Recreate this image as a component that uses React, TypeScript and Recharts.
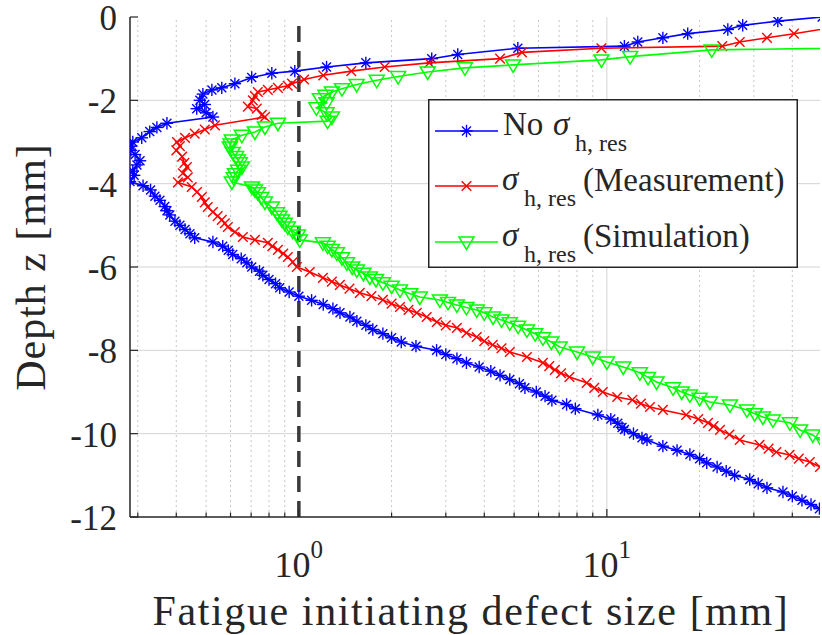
import React from 'react';
import { ScatterChart, Scatter, XAxis, YAxis, ReferenceLine, Legend } from 'recharts';

// depth [mm] vs fatigue initiating defect size [mm]
const noResDepth = [0, -0.1, -0.2, -0.3, -0.4, -0.5, -0.6, -0.7, -0.75, -0.9, -1.0, -1.1, -1.2, -1.3, -1.35, -1.45, -1.6, -1.7, -1.75, -1.85, -2.0, -2.1, -2.2, -2.3, -2.4, -2.55, -2.65, -2.75, -2.9, -3.0, -3.1, -3.2, -3.3, -3.45, -3.55, -3.7, -3.8, -3.95, -4.05, -4.15, -4.3, -4.4, -4.55, -4.65, -4.75, -4.9, -5.0, -5.1, -5.2, -5.3, -5.4, -5.5, -5.6, -5.7, -5.8, -5.9, -6.0, -6.1, -6.2, -6.3, -6.4, -6.5, -6.6, -6.7, -6.8, -6.9, -7.0, -7.1, -7.2, -7.3, -7.4, -7.5, -7.6, -7.7, -7.8, -7.9, -8.0, -8.1, -8.2, -8.3, -8.4, -8.5, -8.6, -8.7, -8.8, -8.9, -9.0, -9.1, -9.2, -9.3, -9.4, -9.55, -9.65, -9.75, -9.85, -9.9, -10.0, -10.1, -10.15, -10.3, -10.4, -10.5, -10.6, -10.7, -10.8, -10.9, -11.0, -11.1, -11.2, -11.3, -11.4, -11.5, -11.6, -11.7, -11.8, -11.9];
const noResSize = [50, 35.9, 27.6, 24.7, 18.3, 15.2, 12.6, 11.4, 5.14, 3.28, 2.7, 1.65, 1.23, 0.97, 0.817, 0.703, 0.62, 0.562, 0.522, 0.488, 0.477, 0.495, 0.466, 0.5, 0.526, 0.373, 0.346, 0.328, 0.309, 0.289, 0.285, 0.285, 0.294, 0.305, 0.298, 0.289, 0.292, 0.283, 0.312, 0.33, 0.341, 0.354, 0.367, 0.373, 0.381, 0.396, 0.411, 0.427, 0.443, 0.459, 0.526, 0.566, 0.59, 0.61, 0.65, 0.678, 0.703, 0.745, 0.764, 0.8, 0.84, 0.867, 0.93, 1.0, 1.1, 1.2, 1.29, 1.36, 1.465, 1.543, 1.65, 1.738, 1.874, 2.0, 2.15, 2.4, 2.8, 3.0, 3.26, 3.5, 3.85, 4.2, 4.5, 4.84, 5.2, 5.42, 5.9, 6.3, 6.63, 7.4, 7.9, 9.35, 10.3, 10.85, 11.2, 11.4, 12.2, 13.0, 13.5, 15.2, 16.9, 18.6, 20.0, 21.1, 22.8, 24.4, 26.0, 29.1, 31.0, 33.1, 37.3, 40.0, 43.0, 46.0, 49.0, 53.0];

const measDepth = [-0.2, -0.4, -0.5, -0.6, -0.7, -0.75, -0.85, -1.0, -1.1, -1.2, -1.3, -1.4, -1.5, -1.6, -1.65, -1.7, -1.75, -1.8, -1.9, -2.0, -2.15, -2.2, -2.35, -2.4, -2.6, -2.7, -2.8, -2.9, -3.0, -3.1, -3.2, -3.35, -3.5, -3.6, -3.75, -3.85, -3.97, -4.08, -4.2, -4.32, -4.45, -4.56, -4.68, -4.78, -4.87, -4.95, -5.04, -5.16, -5.28, -5.35, -5.42, -5.5, -5.59, -5.68, -5.76, -5.88, -6.0, -6.12, -6.26, -6.35, -6.43, -6.52, -6.62, -6.7, -6.79, -6.88, -6.96, -7.03, -7.1, -7.2, -7.32, -7.4, -7.46, -7.58, -7.68, -7.78, -7.87, -7.95, -8.04, -8.16, -8.3, -8.38, -8.47, -8.55, -8.64, -8.78, -8.9, -9.0, -9.12, -9.19, -9.28, -9.36, -9.43, -9.55, -9.65, -9.74, -9.82, -9.91, -10.02, -10.15, -10.27, -10.36, -10.44, -10.51, -10.6, -10.68, -10.8, -10.9];
const measSize = [60, 40.5, 33.1, 27.0, 23.7, 9.6, 5.3, 4.5, 2.65, 1.9, 1.48, 1.2, 1.04, 0.95, 0.92, 0.855, 0.793, 0.736, 0.72, 0.709, 0.683, 0.73, 0.758, 0.776, 0.534, 0.495, 0.459, 0.427, 0.402, 0.411, 0.4, 0.418, 0.425, 0.433, 0.42, 0.436, 0.405, 0.449, 0.467, 0.484, 0.495, 0.506, 0.526, 0.545, 0.562, 0.575, 0.588, 0.62, 0.658, 0.72, 0.793, 0.82, 0.855, 0.89, 0.921, 0.955, 0.985, 1.085, 1.197, 1.28, 1.359, 1.46, 1.577, 1.72, 1.874, 2.0, 2.13, 2.27, 2.415, 2.6, 2.806, 3.0, 3.258, 3.5, 3.78, 4.0, 4.26, 4.55, 4.84, 5.5, 6.2, 6.5, 6.78, 7.1, 7.56, 8.6, 9.1, 9.7, 10.8, 12.1, 12.9, 13.8, 15.2, 18.1, 19.8, 21.3, 22.2, 23.3, 25.0, 27.0, 31.3, 33.5, 35.5, 39.2, 42.0, 45.6, 49.2, 53];

const simDepth = [-0.7, -0.79, -0.95, -1.03, -1.15, -1.22, -1.32, -1.43, -1.52, -1.62, -1.72, -1.8, -1.88, -1.96, -2.06, -2.18, -2.3, -2.4, -2.5, -2.55, -2.64, -2.76, -2.84, -2.95, -3.05, -3.12, -3.25, -3.35, -3.43, -3.5, -3.6, -3.68, -3.76, -3.86, -3.96, -4.08, -4.15, -4.22, -4.33, -4.44, -4.56, -4.7, -4.78, -4.87, -4.95, -5.04, -5.14, -5.23, -5.35, -5.42, -5.5, -5.58, -5.66, -5.78, -5.9, -6.0, -6.07, -6.15, -6.24, -6.3, -6.38, -6.46, -6.55, -6.64, -6.72, -6.79, -6.85, -6.91, -6.97, -7.03, -7.1, -7.2, -7.27, -7.34, -7.42, -7.51, -7.6, -7.7, -7.8, -7.92, -8.04, -8.16, -8.28, -8.4, -8.54, -8.65, -8.76, -8.9, -9.0, -9.07, -9.15, -9.24, -9.31, -9.43, -9.52, -9.6, -9.67, -9.74, -9.91, -10.03, -10.22, -10.3];
const simSize = [150, 21.9, 11.9, 9.6, 4.96, 3.46, 2.62, 2.1, 1.79, 1.54, 1.38, 1.28, 1.22, 1.17, 1.23, 1.14, 1.23, 1.28, 1.24, 0.855, 0.776, 0.72, 0.653, 0.606, 0.6, 0.597, 0.61, 0.625, 0.634, 0.643, 0.653, 0.635, 0.62, 0.615, 0.606, 0.704, 0.72, 0.736, 0.755, 0.776, 0.817, 0.848, 0.865, 0.881, 0.9, 0.921, 0.955, 0.993, 1.007, 1.197, 1.24, 1.28, 1.328, 1.38, 1.432, 1.49, 1.543, 1.62, 1.7, 1.78, 1.874, 2.0, 2.13, 2.3, 2.47, 2.87, 3.05, 3.258, 3.5, 3.78, 4.0, 4.27, 4.55, 4.84, 5.15, 5.5, 5.85, 6.2, 6.6, 7.03, 8.0, 9.0, 10.0, 11.3, 12.8, 13.6, 14.5, 16.4, 17.5, 18.6, 20.0, 21.6, 25.1, 28.5, 30.2, 32.1, 34.6, 39.3, 42.4, 46.6, 50.5, 55];

const xTicks = [0.3, 0.4, 0.5, 0.6, 0.7, 0.8, 0.9, 1, 2, 3, 4, 5, 6, 7, 8, 9, 10, 20, 30, 40];
const xMajor = [1, 10];
const xMajorLabels = ['0', '1']; // exponents of 10
const xMinorGrid = [0.3, 0.4, 0.5, 0.6, 0.7, 0.8, 0.9, 2, 3, 4, 5, 6, 7, 8, 9, 20, 30, 40];
const yTicks = [0, -2, -4, -6, -8, -10, -12];
const yGrid = [-2, -4, -6, -8, -10];
const xDomain = [0.283, 49.2];

const AX = '#262626';
const FONT = 'Liberation Serif';

const noResData = noResDepth.map((d, i) => ({ depth: d, size: noResSize[i] }));
const measData = measDepth.map((d, i) => ({ depth: d, size: measSize[i] }));
const simData = simDepth.map((d, i) => ({ depth: d, size: simSize[i] }));

const StarMark = ({ cx, cy, color = '#0000ff' }: any) => {
  if (cx == null || cy == null) return null;
  const r = 6.2;
  const d = r * 0.72;
  return (
    <g stroke={color} strokeWidth={1.4}>
      <line x1={cx - r} y1={cy} x2={cx + r} y2={cy} />
      <line x1={cx} y1={cy - r} x2={cx} y2={cy + r} />
      <line x1={cx - d} y1={cy - d} x2={cx + d} y2={cy + d} />
      <line x1={cx - d} y1={cy + d} x2={cx + d} y2={cy - d} />
    </g>
  );
};

const CrossMark = ({ cx, cy, color = '#ff0000' }: any) => {
  if (cx == null || cy == null) return null;
  const r = 4.8;
  return (
    <g stroke={color} strokeWidth={1.4}>
      <line x1={cx - r} y1={cy - r} x2={cx + r} y2={cy + r} />
      <line x1={cx - r} y1={cy + r} x2={cx + r} y2={cy - r} />
    </g>
  );
};

const TriMark = ({ cx, cy, color = '#00ff00' }: any) => {
  if (cx == null || cy == null) return null;
  return (
    <polygon
      points={`${cx - 7.5},${cy - 5} ${cx + 7.5},${cy - 5} ${cx},${cy + 7.5}`}
      fill="none"
      stroke={color}
      strokeWidth={1.5}
    />
  );
};

const BottomTick = ({ x, y, payload }: any) => {
  const idx = xMajor.indexOf(payload.value);
  const major = idx >= 0;
  return (
    <g>
      <line x1={x} y1={y} x2={x} y2={y - (major ? 8 : 4.5)} stroke={AX} strokeWidth={1.2} />
      {major && (
        <text x={x} y={y + 60} textAnchor="middle" fontSize={36} fill={AX} style={{ fontFamily: FONT }}>
          10<tspan dy={-19} fontSize={25}>{xMajorLabels[idx]}</tspan>
        </text>
      )}
    </g>
  );
};

const TopTick = ({ x, y, payload }: any) => {
  const major = xMajor.includes(payload.value);
  return <line x1={x} y1={y} x2={x} y2={y + (major ? 8 : 4.5)} stroke={AX} strokeWidth={1.2} />;
};

const LeftTick = ({ x, y, payload }: any) => (
  <g>
    <line x1={x} y1={y} x2={x + 8} y2={y} stroke={AX} strokeWidth={1.2} />
    <text x={x - 13} y={y + 13} textAnchor="end" fontSize={35} fill={AX} style={{ fontFamily: FONT }}>
      {payload.value}
    </text>
  </g>
);

const RightTick = ({ x, y }: any) => (
  <line x1={x} y1={y} x2={x - 8} y2={y} stroke={AX} strokeWidth={1.2} />
);

const XTitle = (props: any) => {
  const vb = props.viewBox || { x: 130, y: 517, width: 690 };
  return (
    <text x={vb.x + vb.width / 2 - 4} y={vb.y + 108} textAnchor="middle" fontSize={42} fill={AX} letterSpacing={1.6} style={{ fontFamily: FONT }}>
      Fatigue initiating defect size [mm]
    </text>
  );
};

const YTitle = (props: any) => {
  const vb = props.viewBox || { x: 0, y: 17, width: 130, height: 500 };
  const cy = vb.y + vb.height / 2;
  return (
    <text x={45} y={cy} transform={`rotate(-90, 45, ${cy})`} textAnchor="middle" fontSize={42} fill={AX} letterSpacing={1} style={{ fontFamily: FONT }}>
      Depth z [mm]
    </text>
  );
};

const legendItems = [
  { pre: 'No', post: '', Mark: StarMark, color: '#0000ff' },
  { pre: '', post: '(Measurement)', Mark: CrossMark, color: '#ff0000' },
  { pre: '', post: '(Simulation)', Mark: TriMark, color: '#00ff00' },
];
const legendRows = [32, 87, 143];

const LegendBox = () => (
  <svg width={370} height={169} style={{ display: 'block', fontFamily: FONT }}>
    <rect x={0.75} y={0.75} width={368.5} height={167.5} fill="#ffffff" stroke={AX} strokeWidth={1.5} />
    {legendItems.map((it, i) => {
      const cy = legendRows[i];
      const sx = it.pre ? 125 : 74;
      return (
        <g key={i} fill={AX}>
          <line x1={7} y1={cy} x2={70} y2={cy} stroke={it.color} strokeWidth={1.5} />
          <it.Mark cx={38.5} cy={cy} color={it.color} />
          {it.pre && <text x={75} y={cy + 4} fontSize={33} style={{ fontFamily: FONT }}>{it.pre}</text>}
          <text x={sx} y={cy + 4} fontSize={33} fontStyle="italic" style={{ fontFamily: FONT }}>σ</text>
          <text x={sx + 22} y={cy + 20} fontSize={24} style={{ fontFamily: FONT }}>h, res</text>
          {it.post && <text x={155} y={cy + 5} fontSize={33} style={{ fontFamily: FONT }}>{it.post}</text>}
        </g>
      );
    })}
  </svg>
);

export default function App() {
  return (
    <div style={{ position: 'absolute', left: 0, top: 0, width: 822, height: 635, background: '#ffffff', fontFamily: FONT }}>
      <ScatterChart width={822} height={635} margin={{ top: 17, right: 2, bottom: 0, left: 0 }}>
        <XAxis
          xAxisId="b"
          type="number"
          dataKey="size"
          scale="log"
          domain={xDomain}
          allowDataOverflow
          ticks={xTicks}
          interval={0}
          height={118}
          tickSize={0}
          tickMargin={0}
          tickLine={false}
          axisLine={{ stroke: AX, strokeWidth: 1.5 }}
          tick={<BottomTick />}
          label={<XTitle />}
        />
        <XAxis
          xAxisId="t"
          orientation="top"
          type="number"
          dataKey="size"
          scale="log"
          domain={xDomain}
          allowDataOverflow
          ticks={xTicks}
          interval={0}
          height={0}
          tickSize={0}
          tickMargin={0}
          tickLine={false}
          axisLine={{ stroke: AX, strokeWidth: 1.5 }}
          tick={<TopTick />}
        />
        <YAxis
          yAxisId="l"
          type="number"
          dataKey="depth"
          domain={[-12, 0]}
          allowDataOverflow
          ticks={yTicks}
          interval={0}
          width={130}
          tickSize={0}
          tickMargin={0}
          tickLine={false}
          axisLine={{ stroke: AX, strokeWidth: 1.5 }}
          tick={<LeftTick />}
          label={<YTitle />}
        />
        <YAxis
          yAxisId="r"
          orientation="right"
          type="number"
          dataKey="depth"
          domain={[-12, 0]}
          allowDataOverflow
          ticks={yTicks}
          interval={0}
          width={0}
          tickSize={0}
          tickMargin={0}
          tickLine={false}
          axisLine={{ stroke: AX, strokeWidth: 1.5 }}
          tick={<RightTick />}
        />

        {xMinorGrid.map((v) => (
          <ReferenceLine key={`mx${v}`} xAxisId="b" yAxisId="l" x={v} stroke="#c8c8c8" strokeWidth={1} strokeDasharray="2 3" />
        ))}
        <ReferenceLine xAxisId="b" yAxisId="l" x={10} stroke="#d4d4d4" strokeWidth={1} />
        {yGrid.map((v) => (
          <ReferenceLine key={`gy${v}`} xAxisId="b" yAxisId="l" y={v} stroke="#d4d4d4" strokeWidth={1} />
        ))}

        <Scatter
          name="No sigma"
          data={noResData}
          xAxisId="b"
          yAxisId="l"
          fill="#0000ff"
          line={{ stroke: '#0000ff', strokeWidth: 1.6 }}
          lineType="joint"
          shape={(p: any) => <StarMark cx={p.cx} cy={p.cy} color="#0000ff" />}
          isAnimationActive={false}
        />
        <Scatter
          name="Measurement"
          data={measData}
          xAxisId="b"
          yAxisId="l"
          fill="#ff0000"
          line={{ stroke: '#ff0000', strokeWidth: 1.6 }}
          lineType="joint"
          shape={(p: any) => <CrossMark cx={p.cx} cy={p.cy} color="#ff0000" />}
          isAnimationActive={false}
        />
        <Scatter
          name="Simulation"
          data={simData}
          xAxisId="b"
          yAxisId="l"
          fill="#00ff00"
          line={{ stroke: '#00ff00', strokeWidth: 1.6 }}
          lineType="joint"
          shape={(p: any) => <TriMark cx={p.cx} cy={p.cy} color="#00ff00" />}
          isAnimationActive={false}
        />

        <ReferenceLine xAxisId="b" yAxisId="l" x={1} stroke="#3a3a3a" strokeWidth={3.5} strokeDasharray="16 9" />

        <Legend
          layout="vertical"
          align="center"
          verticalAlign="middle"
          content={() => <LegendBox />}
          wrapperStyle={{ left: 428, top: 99, width: 370, height: 169 }}
        />
      </ScatterChart>
    </div>
  );
}
